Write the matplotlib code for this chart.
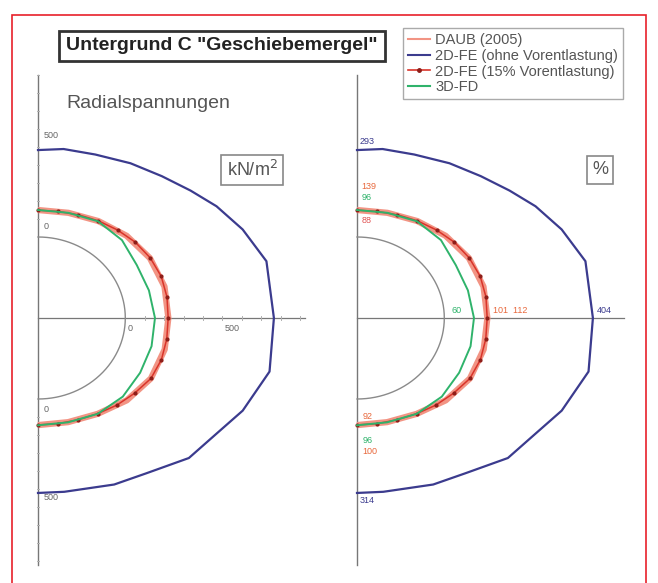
import numpy as np
import matplotlib.pyplot as plt
from matplotlib.lines import Line2D
from matplotlib.patches import Rectangle

plt.rcParams['font.family'] = ['Liberation Sans', 'DejaVu Sans']

# radial stresses (kN/m2) around the tunnel, angle measured from crown (deg)
blue_angle = [0, 8, 18, 29, 39, 48, 56, 65, 75, 90, 104, 116, 125, 135, 147, 157, 172, 180]
blue_sigma = [483, 498, 505, 533, 564, 608, 660, 714, 769, 766, 780, 724, 672, 650, 578, 555, 525, 522]

daub_angle = [0, 15, 30, 45, 60, 75, 90, 105, 120, 135, 150, 165, 180]
daub_sigma = [150, 155, 172, 196, 216, 225, 222, 226, 222, 197, 165, 149, 145]

fe15_angle = [0, 10, 20, 30, 40, 50, 60, 70, 80, 90, 100, 110, 120, 130, 140, 150, 160, 170, 180]
fe15_sigma = [149, 151, 160, 173, 188, 205, 218, 226, 225, 221, 224, 227, 222, 200, 182, 164, 152, 146, 144]

fd3_angle = [0, 15, 30, 45, 60, 75, 90, 105, 120, 135, 150, 165, 180]
fd3_sigma = [150, 155, 170, 162, 138, 142, 153, 156, 158, 168, 165, 150, 146]

R0 = 450  # tunnel radius in plot units

C_BLUE = '#3b3b8e'
C_DAUB = '#f29484'
C_FE15 = '#d9342a'
C_FD3 = '#2fb36b'
C_GRAY = '#8a8a8a'

W, H = 658, 583
SX, SY = 0.194, 0.18  # pixels per unit


def to_xy(angle, sigma):
    a = np.radians(angle)
    r = R0 + np.asarray(sigma, dtype=float)
    return r * np.sin(a), r * np.cos(a)


fig = plt.figure(figsize=(W / 100, H / 100), dpi=100)

# red frame
fig.patches.append(Rectangle((12 / W, -0.02), 634 / W, 1 - 15 / H + 0.02, transform=fig.transFigure,
                             fill=False, edgecolor='#e8202a', lw=1.2))


def add_panel(cx, cy=318, ticks=True):
    left, right, top, bottom = cx - 24, cx + 300, 70, 575
    ax = fig.add_axes([left / W, 1 - bottom / H, (right - left) / W, (bottom - top) / H])
    ax.set_xlim((left - cx) / SX, (right - cx) / SX)
    ax.set_ylim((cy - bottom) / SY, (cy - top) / SY)
    ax.axis('off')
    ax.patch.set_visible(False)
    # axes cross
    ax.plot([0, 0], [(cy - 565) / SY, (cy - 75) / SY], color='#777777', lw=1.0)
    ax.plot([0, 1378], [0, 0], color='#777777', lw=0.9)
    if ticks:
        for k in range(1, 10):
            v = R0 + 100 * k
            ax.plot([v, v], [-10, 10], color='#b0b0b0', lw=0.7)
            ax.plot([-5, 5], [v, v], color='#b0b0b0', lw=0.7)
            ax.plot([-5, 5], [-v, -v], color='#b0b0b0', lw=0.7)
    # tunnel contour
    t = np.linspace(0, 180, 181)
    ax.plot(*to_xy(t, np.zeros_like(t)), color=C_GRAY, lw=1.0)
    hb, = ax.plot(*to_xy(blue_angle, blue_sigma), color=C_BLUE, lw=1.6)
    hd, = ax.plot(*to_xy(daub_angle, daub_sigma), color=C_DAUB, lw=4.5, solid_capstyle='butt')
    hf, = ax.plot(*to_xy(fe15_angle, fe15_sigma), color=C_FE15, lw=1.1, marker='o', ms=2.0,
                  mfc='#8e1d18', mec='#8e1d18')
    hg, = ax.plot(*to_xy(fd3_angle, fd3_sigma), color=C_FD3, lw=1.4)
    return ax, (hd, hb, hf, hg)


axL, handles = add_panel(38, ticks=True)
axR, _ = add_panel(357, ticks=False)

# scale labels, left panel
lab = dict(fontsize=6.5, color='#666666', textcoords='offset points')
axL.annotate('500', (0, R0 + 500), xytext=(4, 5), va='bottom', **lab)
axL.annotate('0', (0, R0), xytext=(4, 4), va='bottom', **lab)
axL.annotate('0', (R0, 0), xytext=(2, -4), va='top', **lab)
axL.annotate('500', (R0 + 500, 0), xytext=(2, -4), va='top', **lab)
axL.annotate('0', (0, -R0), xytext=(4, -4), va='top', **lab)
axL.annotate('500', (0, -R0 - 500), xytext=(4, -3), va='top', **lab)

# percentage labels, right panel
pct = dict(fontsize=6.5, textcoords='offset points')
bx, by = to_xy(blue_angle, blue_sigma)
axR.annotate('293', (0, by[0]), xytext=(2, 3), va='bottom', color=C_BLUE, **pct)
axR.annotate('404', (bx[9], 0), xytext=(3, 2), va='bottom', color=C_BLUE, **pct)
axR.annotate('314', (0, by[-1]), xytext=(2, -2), va='top', color=C_BLUE, **pct)
dy_top = R0 + daub_sigma[0]
dy_bot = -(R0 + daub_sigma[-1])
axR.annotate('139', (0, dy_top), xytext=(3, 14), va='bottom', color='#e8683c', **pct)
axR.annotate('96', (0, dy_top), xytext=(3, 6), va='bottom', color=C_FD3, **pct)
axR.annotate('88', (0, dy_top), xytext=(3, -4), va='top', color='#e05050', **pct)
axR.annotate('60', (R0 + fd3_sigma[6], 0), xytext=(-16, 2), va='bottom', color=C_FD3, **pct)
axR.annotate('101  112', (R0 + daub_sigma[6], 0), xytext=(4, 2), va='bottom', color='#e8683c', **pct)
axR.annotate('92', (0, dy_bot), xytext=(4, 3), va='bottom', color='#e8683c', **pct)
axR.annotate('96', (0, dy_bot), xytext=(4, -8), va='top', color=C_FD3, **pct)
axR.annotate('100', (0, dy_bot), xytext=(4, -16), va='top', color='#e8683c', **pct)

# texts
fig.text(222 / W, 1 - 46 / H, 'Untergrund C "Geschiebemergel"', fontsize=14, fontweight='bold',
         ha='center', va='center', color='#222222',
         bbox=dict(boxstyle='square,pad=0.35', fc='white', ec='#333333', lw=2))
fig.text(66 / W, 1 - 103 / H, 'Radialspannungen', fontsize=14, color='#555555', va='center')
fig.text(252 / W, 1 - 170 / H, 'kN/m$^2$', fontsize=13, color='#555555', ha='center', va='center',
         bbox=dict(boxstyle='square,pad=0.3', fc='white', ec='#888888', lw=1.2))
fig.text(600 / W, 1 - 170 / H, '%', fontsize=13, color='#555555', ha='center', va='center',
         bbox=dict(boxstyle='square,pad=0.3', fc='white', ec='#888888', lw=1.2))

legend_labels = ['DAUB (2005)', '2D-FE (ohne Vorentlastung)', '2D-FE (15% Vorentlastung)', '3D-FD']
leg_handles = [Line2D([], [], color=C_DAUB, lw=1.5),
               Line2D([], [], color=C_BLUE, lw=1.5),
               Line2D([], [], color=C_FE15, lw=1.2, marker='o', ms=2.5, mfc='#8e1d18', mec='#8e1d18'),
               Line2D([], [], color=C_FD3, lw=1.5)]
leg = fig.legend(leg_handles, legend_labels, loc='upper left', bbox_to_anchor=(403 / W, 1 - 28 / H),
                 fontsize=10.5, frameon=True, fancybox=False, edgecolor='#aaaaaa', framealpha=1,
                 handlelength=1.5, handletextpad=0.35, labelspacing=0.12, borderpad=0.35,
                 borderaxespad=0)
for t in leg.get_texts():
    t.set_color('#555555')

fig.savefig('out.png', dpi=100)
